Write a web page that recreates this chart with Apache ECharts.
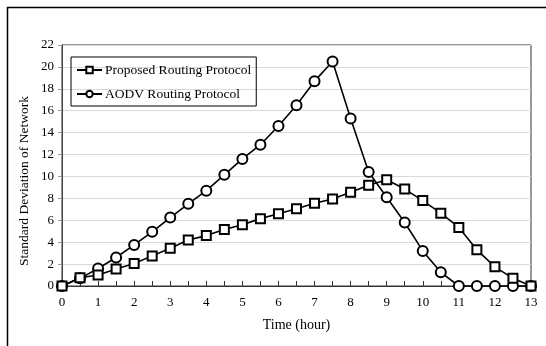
<!DOCTYPE html>
<html>
<head>
<meta charset="utf-8">
<script src="https://cdn.jsdelivr.net/npm/echarts@6/dist/echarts.min.js"></script>
<style>
  html, body { margin: 0; padding: 0; background: #fff; }
  #chart { width: 546px; height: 346px; }
</style>
</head>
<body>
<div id="chart"></div>
<script>
const timeHours = [0, 0.5, 1, 1.5, 2, 2.5, 3, 3.5, 4, 4.5, 5, 5.5, 6, 6.5, 7, 7.5, 8, 8.5, 9, 9.5, 10, 10.5, 11, 11.5, 12, 12.5, 13]
const proposedValues = [0, 0.75, 1.0, 1.55, 2.05, 2.75, 3.45, 4.2, 4.6, 5.15, 5.6, 6.15, 6.6, 7.05, 7.55, 7.95, 8.55, 9.2, 9.7, 8.85, 7.8, 6.65, 5.35, 3.3, 1.75, 0.7, 0]
const aodvValues = [0, 0.7, 1.6, 2.6, 3.75, 4.95, 6.25, 7.5, 8.7, 10.15, 11.6, 12.9, 14.6, 16.5, 18.7, 20.5, 15.3, 10.4, 8.1, 5.8, 3.2, 1.25, 0, 0, 0, 0, 0]

const serifFont = '"Liberation Serif", "DejaVu Serif", serif'
const chart = echarts.init(document.getElementById('chart'))

const pairs = (values) => timeHours.map((t, i) => [t, values[i]])

chart.setOption({
  animation: false,
  textStyle: { fontFamily: serifFont },
  graphic: [
    {
      type: 'rect',
      shape: { x: 7.5, y: 7.5, width: 600, height: 400 },
      style: { fill: 'none', stroke: '#000', lineWidth: 1.5 },
      silent: true
    },
    {
      // y axis title, sits a bit below the plot centre in the original
      type: 'text',
      x: 24,
      y: 181,
      rotation: Math.PI / 2,
      style: {
        text: 'Standard Deviation of Network',
        font: '13.5px ' + serifFont,
        fill: '#000',
        align: 'center',
        verticalAlign: 'middle'
      },
      silent: true
    }
  ],
  grid: {
    left: 62,
    right: 15,
    top: 45,
    bottom: 60,
    show: true,
    borderColor: '#333',
    borderWidth: 1
  },
  legend: {
    orient: 'vertical',
    left: 71,
    top: 57,
    padding: [6, 5, 5, 5],
    itemGap: 10,
    itemWidth: 25,
    itemHeight: 8,
    borderColor: '#000',
    borderWidth: 1,
    textStyle: { fontFamily: serifFont, fontSize: 13.5, color: '#000', padding: [0, 0, 0, -2] },
    data: ['Proposed Routing Protocol', 'AODV Routing Protocol']
  },
  xAxis: {
    type: 'value',
    min: 0,
    max: 13,
    interval: 1,
    name: 'Time (hour)',
    nameLocation: 'middle',
    nameGap: 32,
    nameTextStyle: { fontFamily: serifFont, fontSize: 14, color: '#000' },
    axisLine: { lineStyle: { color: '#333', width: 1 } },
    axisTick: { show: true, inside: true, length: 5, lineStyle: { color: '#333' } },
    minorTick: { show: true, splitNumber: 2, length: 5, lineStyle: { color: '#333' } },
    axisLabel: { fontFamily: serifFont, fontSize: 13, color: '#000', margin: 10 },
    splitLine: { show: false }
  },
  yAxis: {
    type: 'value',
    min: 0,
    max: 22,
    interval: 2,
    axisLine: { show: true, lineStyle: { color: '#444', width: 1 } },
    axisTick: { show: true, length: 4, lineStyle: { color: '#999' } },
    axisLabel: { fontFamily: serifFont, fontSize: 13, color: '#000', margin: 8 },
    splitLine: { lineStyle: { color: '#d9d9d9', width: 1 } }
  },
  series: [
    {
      name: 'Proposed Routing Protocol',
      type: 'line',
      data: pairs(proposedValues),
      symbol: 'emptyRect',
      symbolSize: 9,
      lineStyle: { color: '#000', width: 1.6 },
      itemStyle: { color: '#000', borderColor: '#000', borderWidth: 1.6 },
      z: 3
    },
    {
      name: 'AODV Routing Protocol',
      type: 'line',
      data: pairs(aodvValues),
      symbol: 'emptyCircle',
      symbolSize: 10,
      lineStyle: { color: '#000', width: 1.6 },
      itemStyle: { color: '#000', borderColor: '#000', borderWidth: 1.6 },
      z: 2
    }
  ]
})
</script>
</body>
</html>
